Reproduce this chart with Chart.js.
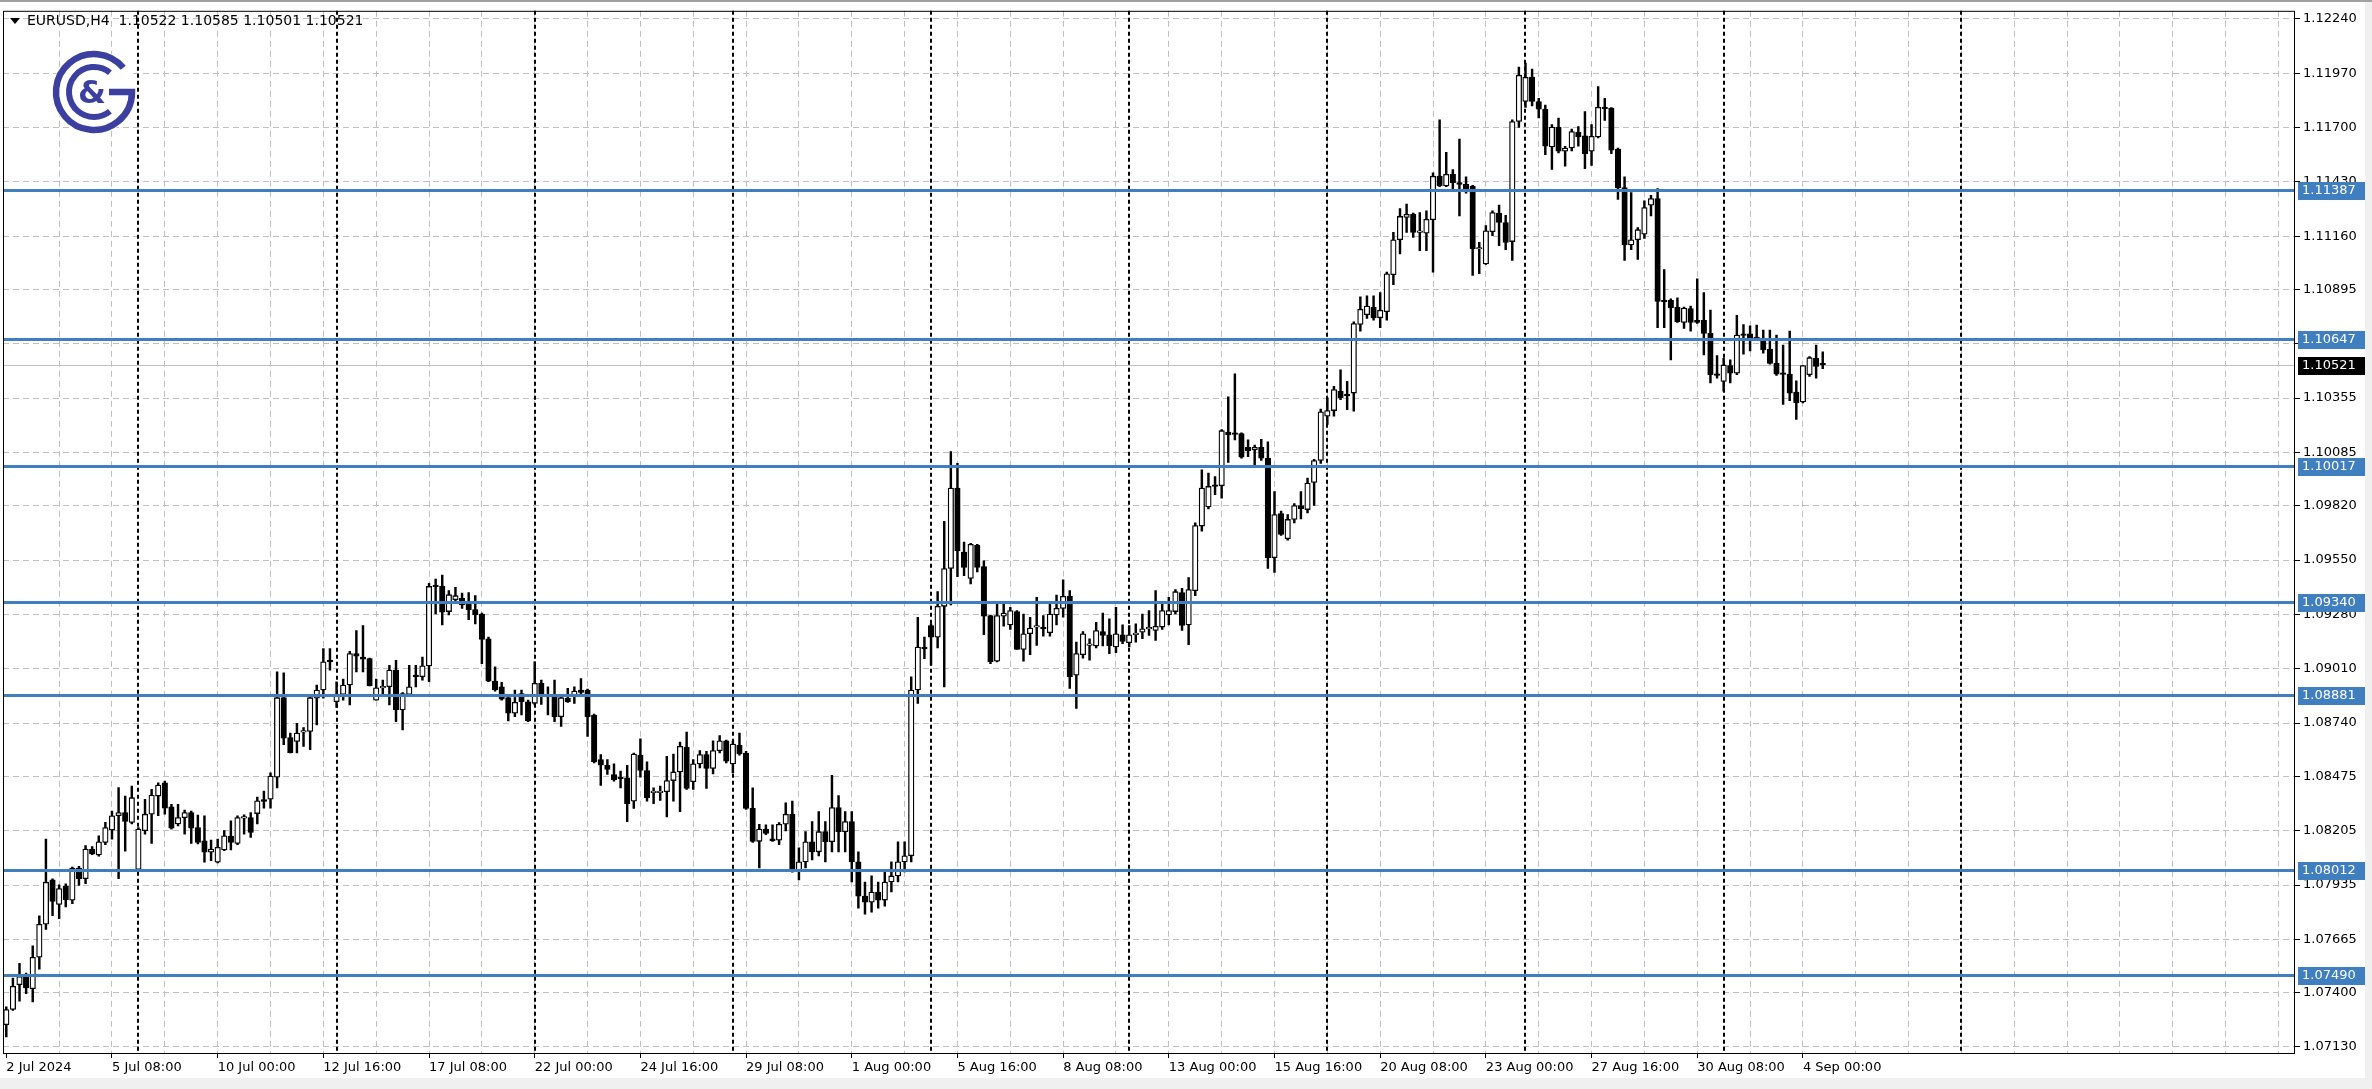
<!DOCTYPE html>
<html>
<head>
<meta charset="utf-8">
<title>EURUSD,H4</title>
<script src="https://cdn.jsdelivr.net/npm/chart.js@4.4.1/dist/chart.umd.min.js"></script>
<style>
  html, body { margin: 0; padding: 0; background: #f0f0f0; }
  #wrap { position: relative; width: 2372px; height: 1089px; }
</style>
</head>
<body>
<div id="wrap"><canvas id="chart"></canvas></div>
<script>
/* ---------- data (H4 bars, 2 Jul 16:00 .. 4 Sep 12:00) ---------- */
const symbolTitle = "EURUSD,H4";
const lastQuote = [1.10522, 1.10585, 1.10501, 1.10521];   // O H L C of current bar

const opens = [
  1.07240, 1.07316, 1.07439, 1.07477, 1.07420, 1.07576, 1.07740, 1.07961, 1.07838, 1.07928,
  1.07859, 1.08019, 1.07966, 1.08112, 1.08084, 1.08147, 1.08208, 1.08279, 1.08295, 1.08246,
  1.08012, 1.08205, 1.08287, 1.08377, 1.08443, 1.08323, 1.08238, 1.08270, 1.08295, 1.08221,
  1.08155, 1.08098, 1.08048, 1.08109, 1.08178, 1.08142, 1.08267, 1.08270, 1.08290, 1.08359,
  1.08361, 1.08471, 1.08866, 1.08668, 1.08649, 1.08695, 1.08698, 1.08863, 1.08904, 1.09052,
  1.08846, 1.08882, 1.08929, 1.09085, 1.09068, 1.09060, 1.08854, 1.08915, 1.08920, 1.09003,
  1.08805, 1.08882, 1.08978, 1.08970, 1.09024, 1.09419, 1.09419, 1.09294, 1.09353, 1.09360,
  1.09332, 1.09304, 1.09282, 1.09159, 1.08948, 1.08920, 1.08866, 1.08789, 1.08887, 1.08846,
  1.08838, 1.08937, 1.08882, 1.08879, 1.08772, 1.08863, 1.08879, 1.08904, 1.08904, 1.08780,
  1.08558, 1.08530, 1.08484, 1.08468, 1.08468, 1.08352, 1.08580, 1.08504, 1.08394, 1.08394,
  1.08399, 1.08454, 1.08497, 1.08619, 1.08448, 1.08537, 1.08583, 1.08514, 1.08603, 1.08652,
  1.08537, 1.08629, 1.08591, 1.08316, 1.08152, 1.08213, 1.08165, 1.08158, 1.08237, 1.08287,
  1.08007, 1.08050, 1.08150, 1.08100, 1.08200, 1.08150, 1.08320, 1.08200, 1.08250, 1.08050,
  1.07880, 1.07850, 1.07900, 1.07860, 1.07950, 1.07980, 1.08050, 1.08080, 1.08904, 1.09116,
  1.09225, 1.09167, 1.09320, 1.09508, 1.09908, 1.09590, 1.09459, 1.09623, 1.09518, 1.09274,
  1.09047, 1.09271, 1.09228, 1.09294, 1.09106, 1.09184, 1.09217, 1.09217, 1.09189, 1.09277,
  1.09310, 1.09370, 1.08978, 1.09080, 1.09126, 1.09123, 1.09195, 1.09179, 1.09118, 1.09179,
  1.09139, 1.09179, 1.09192, 1.09208, 1.09200, 1.09217, 1.09277, 1.09294, 1.09389, 1.09228,
  1.09398, 1.09719, 1.09814, 1.09924, 1.09919, 1.10186, 1.10179, 1.10179, 1.10110, 1.10097,
  1.10110, 1.10056, 1.09562, 1.09781, 1.09656, 1.09752, 1.09821, 1.09801, 1.09936, 1.10045,
  1.10265, 1.10293, 1.10389, 1.10375, 1.10380, 1.10721, 1.10770, 1.10808, 1.10754, 1.10784,
  1.10968, 1.11142, 1.11253, 1.11269, 1.11179, 1.11175, 1.11241, 1.11458, 1.11409, 1.11467,
  1.11426, 1.11417, 1.11409, 1.11096, 1.11022, 1.11182, 1.11274, 1.11228, 1.11133, 1.11730,
  1.11829, 1.11950, 1.11829, 1.11791, 1.11603, 1.11702, 1.11582, 1.11598, 1.11676, 1.11659,
  1.11582, 1.11653, 1.11801, 1.11796, 1.11593, 1.11401, 1.11116, 1.11142, 1.11170, 1.11314,
  1.11347, 1.10841, 1.10841, 1.10808, 1.10731, 1.10800, 1.10742, 1.10742, 1.10677, 1.10471,
  1.10438, 1.10517, 1.10479, 1.10675, 1.10675, 1.10652, 1.10652, 1.10599, 1.10528, 1.10479,
  1.10474, 1.10385, 1.10336, 1.10471, 1.10553, 1.10522
];

const highs = [
  1.07330, 1.07472, 1.07546, 1.07497, 1.07633, 1.07782, 1.08163, 1.07966, 1.07936, 1.07941,
  1.08024, 1.08028, 1.08131, 1.08126, 1.08180, 1.08246, 1.08303, 1.08419, 1.08377, 1.08427,
  1.08221, 1.08361, 1.08410, 1.08443, 1.08452, 1.08336, 1.08336, 1.08307, 1.08303, 1.08282,
  1.08279, 1.08158, 1.08163, 1.08205, 1.08254, 1.08279, 1.08284, 1.08295, 1.08372, 1.08402,
  1.08493, 1.08994, 1.08989, 1.08690, 1.08739, 1.08718, 1.08871, 1.08929, 1.09110, 1.09110,
  1.08945, 1.08958, 1.09096, 1.09200, 1.09225, 1.09063, 1.08958, 1.08953, 1.09027, 1.09052,
  1.08891, 1.09027, 1.09027, 1.09068, 1.09435, 1.09455, 1.09475, 1.09398, 1.09414, 1.09386,
  1.09389, 1.09373, 1.09287, 1.09167, 1.09019, 1.08942, 1.08879, 1.08904, 1.08904, 1.08854,
  1.09044, 1.08953, 1.08920, 1.08953, 1.08871, 1.08912, 1.08920, 1.08961, 1.08909, 1.08784,
  1.08583, 1.08558, 1.08537, 1.08501, 1.08530, 1.08591, 1.08662, 1.08547, 1.08418, 1.08427,
  1.08575, 1.08586, 1.08645, 1.08695, 1.08558, 1.08603, 1.08599, 1.08652, 1.08678, 1.08655,
  1.08649, 1.08690, 1.08599, 1.08418, 1.08237, 1.08234, 1.08234, 1.08245, 1.08344, 1.08352,
  1.08120, 1.08200, 1.08250, 1.08300, 1.08250, 1.08480, 1.08380, 1.08300, 1.08300, 1.08100,
  1.07950, 1.07980, 1.07950, 1.08000, 1.08050, 1.08150, 1.08150, 1.08970, 1.09266, 1.09167,
  1.09233, 1.09393, 1.09743, 1.10089, 1.10031, 1.09640, 1.09633, 1.09628, 1.09546, 1.09277,
  1.09340, 1.09337, 1.09315, 1.09299, 1.09282, 1.09266, 1.09365, 1.09274, 1.09340, 1.09376,
  1.09452, 1.09398, 1.09142, 1.09195, 1.09159, 1.09241, 1.09287, 1.09258, 1.09315, 1.09228,
  1.09225, 1.09233, 1.09282, 1.09299, 1.09398, 1.09332, 1.09365, 1.09403, 1.09409, 1.09463,
  1.09735, 1.09998, 1.09982, 1.09965, 1.10199, 1.10361, 1.10476, 1.10183, 1.10147, 1.10122,
  1.10150, 1.10138, 1.09891, 1.09793, 1.09776, 1.09831, 1.09891, 1.09957, 1.10051, 1.10300,
  1.10356, 1.10413, 1.10496, 1.10438, 1.10734, 1.10858, 1.10863, 1.10863, 1.10879, 1.10981,
  1.11179, 1.11297, 1.11319, 1.11274, 1.11277, 1.11286, 1.11475, 1.11738, 1.11577, 1.11491,
  1.11643, 1.11455, 1.11412, 1.11129, 1.11212, 1.11286, 1.11314, 1.11264, 1.11738, 1.12000,
  1.12020, 1.11990, 1.11845, 1.11812, 1.11714, 1.11747, 1.11607, 1.11692, 1.11705, 1.11779,
  1.11714, 1.11903, 1.11845, 1.11799, 1.11598, 1.11455, 1.11376, 1.11203, 1.11335, 1.11363,
  1.11396, 1.10994, 1.10849, 1.10853, 1.10808, 1.10813, 1.10948, 1.10879, 1.10792, 1.10566,
  1.10553, 1.10545, 1.10767, 1.10721, 1.10714, 1.10718, 1.10693, 1.10693, 1.10668, 1.10619,
  1.10688, 1.10441, 1.10517, 1.10561, 1.10619, 1.10585
];

const lows = [
  1.07180, 1.07312, 1.07357, 1.07395, 1.07354, 1.07517, 1.07714, 1.07782, 1.07768, 1.07826,
  1.07842, 1.07933, 1.07941, 1.08086, 1.08078, 1.08135, 1.08163, 1.07966, 1.08103, 1.08238,
  1.08007, 1.08188, 1.08142, 1.08279, 1.08287, 1.08213, 1.08229, 1.08188, 1.08142, 1.08139,
  1.08048, 1.08056, 1.08045, 1.08106, 1.08109, 1.08135, 1.08188, 1.08172, 1.08238, 1.08317,
  1.08317, 1.08418, 1.08632, 1.08591, 1.08591, 1.08624, 1.08608, 1.08731, 1.08863, 1.09003,
  1.08817, 1.08854, 1.08830, 1.08994, 1.08994, 1.08925, 1.08854, 1.08879, 1.08830, 1.08747,
  1.08706, 1.08871, 1.08920, 1.08953, 1.08945, 1.09282, 1.09228, 1.09277, 1.09348, 1.09310,
  1.09254, 1.09233, 1.09035, 1.08945, 1.08899, 1.08854, 1.08751, 1.08772, 1.08780, 1.08747,
  1.08830, 1.08833, 1.08780, 1.08747, 1.08723, 1.08843, 1.08838, 1.08871, 1.08673, 1.08542,
  1.08430, 1.08484, 1.08451, 1.08418, 1.08250, 1.08316, 1.08471, 1.08352, 1.08339, 1.08356,
  1.08273, 1.08352, 1.08300, 1.08410, 1.08410, 1.08517, 1.08415, 1.08487, 1.08591, 1.08542,
  1.08492, 1.08580, 1.08311, 1.08147, 1.08020, 1.08185, 1.08152, 1.08135, 1.08204, 1.07999,
  1.07960, 1.08020, 1.08060, 1.08080, 1.08050, 1.08100, 1.08100, 1.08100, 1.07950, 1.07820,
  1.07790, 1.07800, 1.07820, 1.07830, 1.07900, 1.07950, 1.08000, 1.08050, 1.08838, 1.09060,
  1.09027, 1.09113, 1.08920, 1.09327, 1.09468, 1.09472, 1.09431, 1.09491, 1.09179, 1.09035,
  1.09044, 1.09221, 1.09205, 1.09106, 1.09047, 1.09080, 1.09126, 1.09172, 1.09172, 1.09228,
  1.09266, 1.08912, 1.08813, 1.09063, 1.09052, 1.09113, 1.09123, 1.09085, 1.09090, 1.09134,
  1.09118, 1.09142, 1.09159, 1.09175, 1.09151, 1.09205, 1.09228, 1.09282, 1.09200, 1.09129,
  1.09373, 1.09694, 1.09804, 1.09875, 1.09858, 1.10035, 1.10147, 1.10056, 1.10064, 1.10018,
  1.10045, 1.09508, 1.09488, 1.09672, 1.09649, 1.09735, 1.09755, 1.09784, 1.09821, 1.10030,
  1.10224, 1.10265, 1.10347, 1.10298, 1.10290, 1.10688, 1.10751, 1.10742, 1.10705, 1.10742,
  1.10919, 1.11072, 1.11179, 1.11154, 1.11088, 1.11088, 1.10981, 1.11406, 1.11406, 1.11389,
  1.11261, 1.11373, 1.10965, 1.10973, 1.11019, 1.11162, 1.11113, 1.11093, 1.11039, 1.11700,
  1.11800, 1.11807, 1.11747, 1.11565, 1.11491, 1.11574, 1.11508, 1.11584, 1.11607, 1.11495,
  1.11511, 1.11648, 1.11735, 1.11570, 1.11343, 1.11039, 1.11093, 1.11044, 1.11149, 1.11261,
  1.10705, 1.10705, 1.10545, 1.10731, 1.10701, 1.10688, 1.10726, 1.10570, 1.10430, 1.10454,
  1.10389, 1.10430, 1.10471, 1.10573, 1.10589, 1.10644, 1.10578, 1.10524, 1.10468, 1.10323,
  1.10342, 1.10249, 1.10331, 1.10463, 1.10454, 1.10501
];

const closes = [
  1.07316, 1.07431, 1.07480, 1.07423, 1.07576, 1.07740, 1.07949, 1.07854, 1.07917, 1.07862,
  1.08019, 1.07966, 1.08114, 1.08089, 1.08150, 1.08221, 1.08279, 1.08295, 1.08251, 1.08369,
  1.08213, 1.08287, 1.08382, 1.08432, 1.08317, 1.08218, 1.08270, 1.08295, 1.08218, 1.08147,
  1.08098, 1.08114, 1.08122, 1.08180, 1.08147, 1.08270, 1.08270, 1.08196, 1.08353, 1.08351,
  1.08476, 1.08866, 1.08665, 1.08591, 1.08690, 1.08701, 1.08866, 1.08904, 1.09044, 1.09045,
  1.08882, 1.08929, 1.09085, 1.09072, 1.09057, 1.08925, 1.08915, 1.08920, 1.09003, 1.08805,
  1.08887, 1.08920, 1.08970, 1.09024, 1.09419, 1.09418, 1.09291, 1.09378, 1.09373, 1.09327,
  1.09304, 1.09277, 1.09156, 1.08948, 1.08904, 1.08859, 1.08789, 1.08843, 1.08846, 1.08751,
  1.08937, 1.08871, 1.08873, 1.08772, 1.08866, 1.08846, 1.08899, 1.08892, 1.08772, 1.08547,
  1.08530, 1.08509, 1.08459, 1.08464, 1.08339, 1.08586, 1.08504, 1.08369, 1.08395, 1.08402,
  1.08454, 1.08497, 1.08624, 1.08415, 1.08537, 1.08583, 1.08514, 1.08603, 1.08652, 1.08550,
  1.08636, 1.08586, 1.08316, 1.08152, 1.08213, 1.08191, 1.08155, 1.08237, 1.08287, 1.08007,
  1.08050, 1.08150, 1.08100, 1.08200, 1.08150, 1.08320, 1.08200, 1.08250, 1.08050, 1.07880,
  1.07850, 1.07900, 1.07860, 1.07950, 1.07980, 1.08050, 1.08080, 1.08904, 1.09118, 1.09108,
  1.09167, 1.09320, 1.09508, 1.09908, 1.09595, 1.09513, 1.09628, 1.09513, 1.09271, 1.09044,
  1.09274, 1.09287, 1.09299, 1.09106, 1.09184, 1.09212, 1.09221, 1.09208, 1.09282, 1.09310,
  1.09370, 1.08970, 1.09085, 1.09184, 1.09133, 1.09200, 1.09175, 1.09123, 1.09184, 1.09146,
  1.09179, 1.09187, 1.09208, 1.09212, 1.09221, 1.09299, 1.09299, 1.09393, 1.09225, 1.09403,
  1.09722, 1.09908, 1.09916, 1.09916, 1.10193, 1.10173, 1.10175, 1.10061, 1.10094, 1.10110,
  1.10056, 1.09562, 1.09776, 1.09677, 1.09752, 1.09821, 1.09806, 1.09933, 1.10045, 1.10287,
  1.10293, 1.10397, 1.10356, 1.10366, 1.10726, 1.10797, 1.10813, 1.10754, 1.10792, 1.10973,
  1.11142, 1.11258, 1.11269, 1.11179, 1.11182, 1.11244, 1.11458, 1.11409, 1.11467, 1.11426,
  1.11417, 1.11393, 1.11096, 1.11101, 1.11187, 1.11277, 1.11228, 1.11129, 1.11730, 1.11960,
  1.11950, 1.11829, 1.11791, 1.11607, 1.11702, 1.11582, 1.11598, 1.11680, 1.11653, 1.11570,
  1.11656, 1.11801, 1.11794, 1.11587, 1.11401, 1.11116, 1.11142, 1.11192, 1.11302, 1.11347,
  1.10836, 1.10833, 1.10803, 1.10734, 1.10803, 1.10731, 1.10731, 1.10677, 1.10471, 1.10468,
  1.10520, 1.10479, 1.10668, 1.10667, 1.10652, 1.10651, 1.10594, 1.10528, 1.10474, 1.10473,
  1.10380, 1.10331, 1.10517, 1.10556, 1.10512, 1.10521
];

// time axis labels, one every 16 bars
const timeLabels = [
  "2 Jul 2024", "5 Jul 08:00", "10 Jul 00:00", "12 Jul 16:00", "17 Jul 08:00", "22 Jul 00:00",
  "24 Jul 16:00", "29 Jul 08:00", "1 Aug 00:00", "5 Aug 16:00", "8 Aug 08:00", "13 Aug 00:00",
  "15 Aug 16:00", "20 Aug 08:00", "23 Aug 00:00", "27 Aug 16:00", "30 Aug 08:00", "4 Sep 00:00"
];

// price scale labels (as MT shows them)
const priceTicks = [
  1.12240, 1.11970, 1.11700, 1.11430, 1.11160, 1.10895, 1.10625, 1.10355, 1.10085, 1.09820,
  1.09550, 1.09280, 1.09010, 1.08740, 1.08475, 1.08205, 1.07935, 1.07665, 1.07400, 1.07130
];

// horizontal levels drawn on the chart
const levels = [1.11387, 1.10647, 1.10017, 1.09340, 1.08881, 1.08012, 1.07490];

// bar index of each weekly period separator
const weekStarts = [20, 50, 80, 110, 140, 170, 200, 230, 260, 296];

const slotCount = 347;     // bars that fit in the window incl. empty right margin

/* ---------- look ---------- */
const FONT = '"DejaVu Sans", sans-serif';
const LEVEL_BLUE = '#3f7fbf';
const GRID_GRAY = '#c0c0c0';

Chart.defaults.font.family = FONT;
Chart.defaults.font.size = 13;
Chart.defaults.color = '#000';

/* -------------------------------
   Logo
--------------------------------*/
function drawLogo(ctx) {
    const cx = 94, cy = 92;
    ctx.save();
    ctx.fillStyle = '#fff';
    ctx.beginPath();
    ctx.arc(cx, cy, 42, 0, Math.PI * 2);
    ctx.fill();

    ctx.strokeStyle = '#3b3f9f';
    ctx.fillStyle = '#3b3f9f';
    ctx.lineWidth = 6.5;
    ctx.beginPath();
    ctx.arc(cx, cy, 38, -Math.PI * 0.22, 0, true);
    ctx.lineTo(cx + 15, cy);
    ctx.stroke();

    ctx.lineWidth = 6;
    ctx.beginPath();
    ctx.arc(cx, cy, 25, -Math.PI * 0.28, Math.PI * 0.28, true);
    ctx.stroke();

    ctx.font = 'bold 32px ' + FONT;
    ctx.textAlign = 'center';
    ctx.textBaseline = 'middle';
    ctx.fillText('&', cx - 2, cy + 3);
    ctx.restore();
}

/* -------------------------------
   Price box on the right axis
--------------------------------*/
function priceBox(ctx, area, y, value, color) {
    const py = Math.round(y.getPixelForValue(value));
    ctx.fillStyle = color;
    ctx.fillRect(area.right + 3, py - 8, 67, 18);
    ctx.fillStyle = '#fff';
    ctx.font = '13px ' + FONT;
    ctx.textAlign = 'left';
    ctx.textBaseline = 'middle';
    ctx.fillText(value.toFixed(5), area.right + 7, py + 1);
}

const terminalLook = {
    id: 'terminalLook',
    beforeDraw(chart) {
        const { ctx, width, height } = chart;
        ctx.save();
        ctx.fillStyle = '#fff';
        ctx.fillRect(0, 0, width, height);
        ctx.fillStyle = '#f0f0f0';
        ctx.fillRect(0, 1078, width, height - 1078);
        ctx.fillRect(2365, 0, width - 2365, height);
        ctx.fillStyle = '#a0a0a0';
        ctx.fillRect(0, 0, width, 2);
        ctx.restore();
    },
    beforeDatasetsDraw(chart) {
        const { ctx, chartArea: area, scales: { x, y } } = chart;
        ctx.save();
        // weekly separators
        ctx.strokeStyle = '#000';
        ctx.lineWidth = 2;
        ctx.setLineDash([4, 3]);
        weekStarts.forEach(i => {
            const px = Math.round(x.getPixelForValue(i));
            ctx.beginPath();
            ctx.moveTo(px, area.top);
            ctx.lineTo(px, area.bottom);
            ctx.stroke();
        });
        // last price line
        ctx.setLineDash([]);
        ctx.lineWidth = 1;
        ctx.strokeStyle = '#c0c0c0';
        const py = Math.round(y.getPixelForValue(lastQuote[3])) + 0.5;
        ctx.beginPath();
        ctx.moveTo(area.left, py);
        ctx.lineTo(area.right, py);
        ctx.stroke();
        ctx.restore();
    },
    afterDatasetsDraw(chart) {
        const { ctx, chartArea: area, scales: { y } } = chart;
        ctx.save();
        // horizontal levels
        ctx.strokeStyle = LEVEL_BLUE;
        ctx.lineWidth = 3;
        levels.forEach(v => {
            const py = Math.round(y.getPixelForValue(v)) + 0.5;
            ctx.beginPath();
            ctx.moveTo(area.left, py);
            ctx.lineTo(area.right, py);
            ctx.stroke();
        });
        // frame
        ctx.strokeStyle = '#000';
        ctx.lineWidth = 1;
        ctx.strokeRect(area.left + 0.5, area.top + 0.5, area.right - area.left - 1, area.bottom - area.top);

        drawLogo(ctx);

        // header
        ctx.fillStyle = '#000';
        ctx.beginPath();
        ctx.moveTo(10, 18);
        ctx.lineTo(20, 18);
        ctx.lineTo(15, 24);
        ctx.closePath();
        ctx.fill();
        ctx.font = '14px ' + FONT;
        ctx.textAlign = 'left';
        ctx.textBaseline = 'middle';
        ctx.fillText(symbolTitle + '  ' + lastQuote.map(v => v.toFixed(5)).join(' '), 27, 21);
        ctx.restore();
    },
    afterDraw(chart) {
        const { ctx, chartArea: area, scales: { y } } = chart;
        ctx.save();
        levels.forEach(v => priceBox(ctx, area, y, v, LEVEL_BLUE));
        priceBox(ctx, area, y, lastQuote[3], '#000');
        ctx.restore();
    }
};

/* -------------------------------
   Chart
--------------------------------*/
const slots = Array.from({ length: slotCount }, (_, i) => String(i));

new Chart(document.getElementById('chart'), {
    type: 'bar',
    data: {
        labels: slots,
        datasets: [
            {
                label: 'wick',
                data: lows.map((l, i) => [l, highs[i]]),
                backgroundColor: '#000',
                borderWidth: 0,
                barThickness: 1.8,
                grouped: false,
                order: 2
            },
            {
                label: 'body',
                data: opens.map((o, i) => [o, closes[i]]),
                backgroundColor: ctx => closes[ctx.dataIndex] >= opens[ctx.dataIndex] ? '#fff' : '#000',
                borderColor: '#000',
                borderWidth: 1.3,
                borderSkipped: false,
                barThickness: 5.5,
                minBarLength: 1.5,
                grouped: false,
                order: 1
            }
        ]
    },
    options: {
        responsive: true,
        maintainAspectRatio: false,
        animation: false,
        events: [],
        layout: { padding: { left: 3, top: 4, right: 0, bottom: 0 } },
        plugins: {
            legend: { display: false },
            tooltip: { enabled: false }
        },
        scales: {
            x: {
                type: 'category',
                offset: true,
                afterFit: scale => { scale.height = 36; },
                grid: {
                    offset: false,
                    color: c => (c.index > 0 && c.index % 8 === 0) ? GRID_GRAY : 'rgba(0,0,0,0)',
                    tickColor: c => (c.index % 16 === 0 && c.index / 16 < timeLabels.length) ? '#000' : 'rgba(0,0,0,0)',
                    tickLength: 5,
                    tickBorderDash: []
                },
                border: { display: false, dash: [6, 4] },
                ticks: {
                    autoSkip: false,
                    maxRotation: 0,
                    minRotation: 0,
                    align: 'start',
                    padding: 2,
                    callback: (v, i) => (i % 16 === 0 && i / 16 < timeLabels.length) ? timeLabels[i / 16] : ''
                }
            },
            y: {
                type: 'linear',
                position: 'right',
                min: 1.07100,
                max: 1.12280,
                afterFit: scale => { scale.width = 77; },
                afterBuildTicks: scale => { scale.ticks = priceTicks.map(v => ({ value: v })); },
                grid: {
                    color: GRID_GRAY,
                    tickColor: '#000',
                    tickLength: 5,
                    tickBorderDash: []
                },
                border: { display: false, dash: [6, 4] },
                ticks: {
                    autoSkip: false,
                    padding: 3,
                    callback: v => Number(v).toFixed(5)
                }
            }
        }
    },
    plugins: [terminalLook]
});
</script>
</body>
</html>
